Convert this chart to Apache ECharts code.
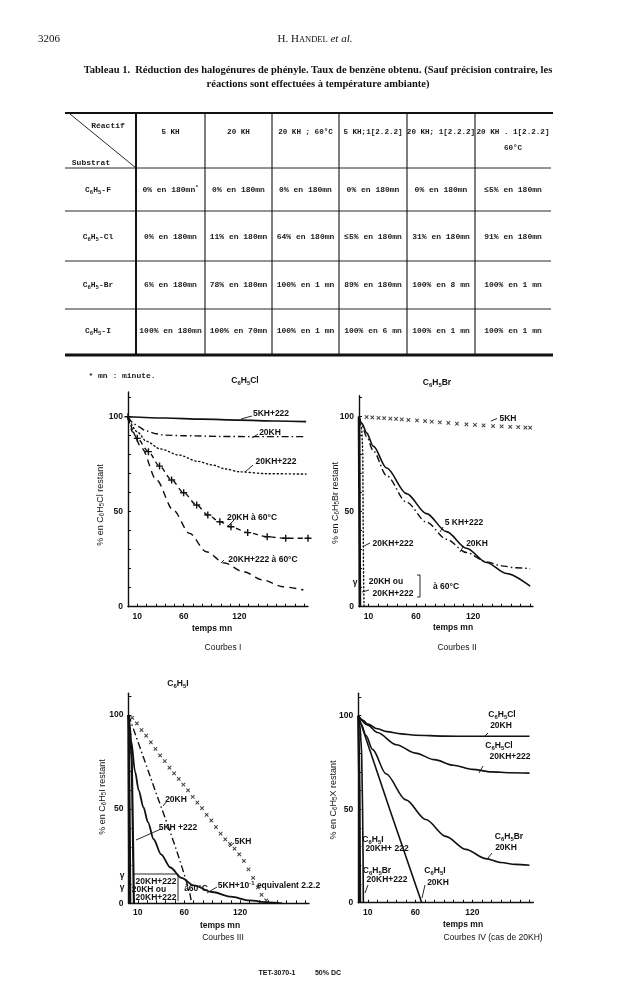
<!DOCTYPE html>
<html><head><meta charset="utf-8">
<script src="https://cdn.jsdelivr.net/npm/echarts/dist/echarts.min.js"></script>
<style>
html,body{margin:0;padding:0;background:#fff;}
body{width:625px;height:1007px;position:relative;overflow:hidden;}
#chart{position:absolute;left:0;top:0;width:625px;height:1007px;}
#ov{position:absolute;left:0;top:0;width:625px;height:1007px;pointer-events:none;}
.t{position:absolute;transform:translate(-50%,-50%);white-space:nowrap;line-height:1;color:#111;pointer-events:none;}
.t sub{font-size:70%;vertical-align:-0.3em;line-height:0;}
.t sup{font-size:70%;vertical-align:0.5em;line-height:0;}
.serif{font-family:"Liberation Serif","DejaVu Serif",serif;}
.hd{font-size:11px;}
.cap{font-size:10.5px;font-weight:bold;}
.mono{font-family:"Liberation Mono","DejaVu Sans Mono",monospace;font-size:8px;font-weight:bold;color:#1a1a1a;}
.mh{font-size:7.6px;}
.sans{font-family:"Liberation Sans",Arial,sans-serif;}
.lb{font-size:8.5px;font-weight:bold;}
.ax{font-size:8.5px;font-weight:bold;}
.cb{font-size:8.5px;}
.yn{font-size:9px;}
.ft{font-size:7px;font-weight:bold;}
</style></head>
<body>
<div id="chart"></div>
<svg id="ov" xmlns="http://www.w3.org/2000/svg"></svg>
<script>
// ---------------- DATA ----------------
// tick labels shown on the axes
const xTicksShown = [10, 60, 120];
const yTicksShown = [0, 50, 100];

// Table 1 (text values)
const tableHeaders = ["5 KH", "20 KH", "20 KH ; 60°C", "5 KH;1[2.2.2]", "20 KH; 1[2.2.2]", "20 KH . 1[2.2.2]"];
const tableHeaderLine2 = ["", "", "", "", "", "60°C"];
const tableSubstrates = ["C<sub>6</sub>H<sub>5</sub>-F", "C<sub>6</sub>H<sub>5</sub>-Cl", "C<sub>6</sub>H<sub>5</sub>-Br", "C<sub>6</sub>H<sub>5</sub>-I"];
const rowF  = ["0% en 180mn<sup>*</sup>", "0% en 180mn", "0% en 180mn", "0% en 180mn", "0% en 180mn", "≤5% en 180mn"];
const rowCl = ["0% en 180mn", "11% en 180mn", "64% en 180mn", "≤5% en 180mn", "31% en 180mn", "91% en 180mn"];
const rowBr = ["6% en 180mn", "78% en 180mn", "100% en 1 mn", "89% en 180mn", "100% en 8 mn", "100% en 1 mn"];
const rowI  = ["100% en 180mn", "100% en 70mn", "100% en 1 mn", "100% en 6 mn", "100% en 1 mn", "100% en 1 mn"];

// Courbes I : C6H5Cl  [temps mn, % restant]
const c1_5KH222   = [[0,100],[40,99.3],[80,98.7],[120,98.2],[160,97.7],[192,97.4]];
const c1_20KH     = [[0,100],[5,97],[10,95],[20,92.5],[30,91],[40,90.3],[60,90],[100,89.6],[140,89.5],[192,89.5]];
const c1_20KH222  = [[0,100],[10,92],[20,87],[35,83],[55,79.8],[75,76.5],[91,74.6],[105,72.5],[120,71],[150,70],[192,69.8]];
const c1_20KH60   = [[0,100],[10,88.6],[22,81.6],[34,74],[47,66.7],[60,60],[74,53.5],[86,48.3],[99,44.7],[111,42.1],[129,39],[150,36.8],[170,36],[194,36]];
const c1_20KH222_60 = [[0,100],[5,92],[14.7,83.4],[30.7,66.7],[48.6,50.9],[66.4,38.6],[84.3,28.9],[104,23],[124.3,18.4],[145.7,14],[167,10.5],[189,8.8]];

// Courbes II : C6H5Br
const c2_5KH = [[8,99.8],[14,99.6],[20.5,99.4],[26.5,99.2],[33,99],[39,98.8],[45,98.6],[52,98.3],[61,98],[69.5,97.7],[76.5,97.4],[85,97],[94,96.7],[103,96.3],[113,96],[122,95.7],[131,95.4],[141,95.1],[150,94.9],[159,94.7],[167.5,94.5],[175,94.3],[180,94.2]];
const c2_5KH222 = [[0,100],[3,96.5],[8,91.5],[15,84.5],[29,73],[50,59.5],[71,49],[92,39.5],[113,30.8],[134,23.3],[155,17.5],[180,10.8]];
const br_20KH   = [[0,100],[3,95.5],[8,89.5],[15,82],[29,69],[50,55],[71,44.5],[92,35.5],[113,28.5],[134,23.6],[150,21.5],[165,20.5],[180,20]];
const c2_20KH222 = [[0,100],[3,93],[4,80],[4.3,50],[4.7,20],[5.3,0]];
const c2_60C    = [[0,100],[0.5,50],[1,0]];

// Courbes III : C6H5I
const c3_5KH = [[4,98.5],[9,95.5],[14,92],[19,89],[24,85.5],[29,82],[34,78.5],[39,75.5],[44,72],[49,69],[54,66],[59,63],[64,60],[69,56.5],[74,53.5],[79,50.5],[84,47],[89,44],[94,40.5],[99,37],[104,34],[109,31.5],[114,29],[119,26],[124,22.5],[129,18],[134,13.5],[139,8.5],[143,4.5],[148,1.5]];
const c3_20KH   = [[0,100],[10,86],[20,72],[30,58],[40,44.5],[50,30.5],[57,20],[62,12],[66,5],[68,0]];
const c3_5KH01  = [[0,100],[3,86],[7,70],[11,60],[16,51],[21,43],[27,34],[35,26],[45,19],[57,13.5],[70,9.5],[90,6],[110,3.5],[130,1.5],[150,0.5],[165,0]];
const c3_5KH222 = [[0,100],[2,90],[3.5,75],[4.5,45],[5.2,20],[5.8,0]];
const c3_20KH222 = [[0,100],[1,70],[1.8,30],[2.2,0]];
const c3_60C    = [[0,100],[0.5,50],[1,0]];

// Courbes IV : cas de 20KH
const c4_Cl20KH    = [[0,100],[5,97.5],[10,95.5],[20,93],[30,91.5],[45,90.3],[60,89.6],[90,89.1],[120,89],[180,89]];
const c4_Cl20KH222 = [[0,100],[10,95],[20,91],[40,84.5],[60,80],[80,76.5],[100,73.5],[120,71.3],[140,70],[160,69.5],[180,69.3]];
const c4_I20KH     = [[0,100],[33,50],[66.7,0]];
const c4_I20KH222  = [[0,100],[1.2,60],[1.5,25],[1.8,0]];
const c4_Br20KH222 = [[0,100],[2,93],[3.5,80],[4.5,50],[5,25],[5.3,0]];

// ---------------- LAYOUT ----------------
const INK = '#111';
const grids = [
  {left:128,   top:392,   width:180,   height:214.7},
  {left:359,   top:395.8, width:174,   height:210.9},
  {left:128.5, top:693.3, width:180.5, height:210},
  {left:358.3, top:693.3, width:175,   height:209.4}
];
const xMax = [194,183,194,184];
const yMax = [113,111,111.5,112];
const labelFont = {color:INK, fontSize:8.5, fontWeight:'bold', fontFamily:'Liberation Sans'};

const xAxes = grids.map((g,i)=>({
  gridIndex:i, type:'value', min:0, max:xMax[i], interval:10,
  axisLine:{show:true, onZero:false, lineStyle:{color:INK, width:1.4}},
  axisTick:{show:true, inside:true, length:3, lineStyle:{color:INK, width:1}},
  axisLabel:Object.assign({margin:5, showMaxLabel:false, formatter:v=>xTicksShown.includes(v)?String(v):''}, labelFont),
  splitLine:{show:false}
}));
const yAxes = grids.map((g,i)=>({
  gridIndex:i, type:'value', min:0, max:yMax[i], interval:10,
  axisLine:{show:true, onZero:false, lineStyle:{color:INK, width:1.4}},
  axisTick:{show:true, inside:true, length:3, lineStyle:{color:INK, width:1}},
  axisLabel:Object.assign({margin:5, showMaxLabel:false, formatter:v=>yTicksShown.includes(v)?String(v):''}, labelFont),
  splitLine:{show:false}
}));

const plusPath = 'path://M4,0H6V4H10V6H6V10H4V6H0V4H4Z';
function ln(gi, data, ls, extra){
  return Object.assign({type:'line', xAxisIndex:gi, yAxisIndex:gi, data:data, symbol:'none', showSymbol:false,
    smooth:0.3, smoothMonotone:'x', silent:true, animation:false,
    lineStyle:Object.assign({color:INK, width:1.4}, ls)}, extra||{});
}
function marks(gi, data, size){
  return {type:'scatter', xAxisIndex:gi, yAxisIndex:gi, data:data, symbol:plusPath, symbolRotate:45,
    symbolSize:size, itemStyle:{color:INK}, silent:true, animation:false};
}
const DASHDOT=[7,3,1.5,3];

const series = [
  // I
  ln(0, c1_5KH222, {width:1.6}),
  ln(0, c1_20KH, {type:DASHDOT}),
  ln(0, c1_20KH222, {type:[1.2,2.8], cap:'round'}),
  ln(0, c1_20KH60, {type:[5,4]}, {symbol:plusPath, showSymbol:true, symbolSize:7, itemStyle:{color:INK}}),
  ln(0, c1_20KH222_60, {type:[7,5]}),
  // II
  marks(1, c2_5KH, 5),
  ln(1, c2_5KH222, {width:1.6}),
  ln(1, br_20KH, {type:DASHDOT}),
  ln(1, c2_20KH222, {type:[1.2,2.5], cap:'round'}, {smooth:false}),
  ln(1, c2_60C, {width:2.6}, {smooth:false}),
  // III
  marks(2, c3_5KH, 5),
  ln(2, c3_20KH, {type:DASHDOT}, {smooth:false}),
  ln(2, c3_5KH01, {width:1.8}),
  ln(2, c3_5KH222, {width:2.2}, {smooth:false}),
  ln(2, c3_20KH222, {width:1.6}, {smooth:false}),
  ln(2, c3_60C, {width:2.4}, {smooth:false}),
  // IV
  ln(3, c4_Cl20KH, {width:1.6}),
  ln(3, c4_Cl20KH222, {width:1.6}),
  ln(3, br_20KH, {width:1.6}),
  ln(3, c4_I20KH, {width:1.6}, {smooth:false}),
  ln(3, c4_I20KH222, {width:2.4}, {smooth:false}),
  ln(3, c4_Br20KH222, {width:1.6}, {smooth:false})
];

const chart = echarts.init(document.getElementById('chart'), null, {renderer:'canvas'});
chart.setOption({animation:false, backgroundColor:'#fff', grid:grids, xAxis:xAxes, yAxis:yAxes, series:series});

// ---------------- TEXT ----------------
function T(x,y,html,cls,rot){
  const d=document.createElement('div');
  d.className='t '+cls; d.style.left=x+'px'; d.style.top=y+'px'; d.innerHTML=html;
  if(rot) d.style.transform='translate(-50%,-50%) rotate(-90deg)';
  document.body.appendChild(d);
}
const C = (a,b)=>'C<sub>6</sub>H<sub>5</sub>'+a+(b||'');
// header
T(49,38,'3206','serif hd');
T(315,38,'H. H<span style="font-size:8.5px">ANDEL</span> <i>et al.</i>','serif hd');
T(318,70,'Tableau 1.&nbsp; Réduction des halogénures de phényle. Taux de benzène obtenu. (Sauf précision contraire, les','serif cap');
T(318,84,'réactions sont effectuées à température ambiante)','serif cap');

// table
const colEdges=[65,136,205,272,339,407,475,551];
const rowEdges=[113,168,211,261,309,355];
const rowCenters=[190,237,285,331];
T(108,126,'Réactif','mono'); T(91,163,'Substrat','mono');
tableHeaders.forEach((h,i)=>{
  const cx=(colEdges[i+1]+colEdges[i+2])/2;
  T(cx, 133, h, 'mono mh');
  if(tableHeaderLine2[i]) T(cx, 149, tableHeaderLine2[i], 'mono mh');
});
[rowF,rowCl,rowBr,rowI].forEach((r,ri)=>{
  T(98,rowCenters[ri],tableSubstrates[ri],'mono');
  r.forEach((v,ci)=>{ T((colEdges[ci+1]+colEdges[ci+2])/2,rowCenters[ri],v,'mono'); });
});
T(122,376,'* mn : minute.','mono');

// chart I
T(245,380,C('Cl'),'sans lb');
T(100,505,'% en '+C('Cl')+' restant','sans yn',true);
T(212,628,'temps mn','sans ax');
T(223,647,'Courbes I','sans cb');
T(271,413,'5KH+222','sans lb');
T(270,432,'20KH','sans lb');
T(276,461,'20KH+222','sans lb');
T(252,517,'20KH à 60°C','sans lb');
T(263,559,'20KH+222 à 60°C','sans lb');
// chart II
T(437,382,C('Br'),'sans lb');
T(335,503,'% en '+C('Br')+' restant','sans yn',true);
T(453,627,'temps mn','sans ax');
T(457,647,'Courbes II','sans cb');
T(508,418,'5KH','sans lb');
T(464,522,'5 KH+222','sans lb');
T(477,543,'20KH','sans lb');
T(393,543,'20KH+222','sans lb');
T(386,581,'20KH ou','sans lb');
T(393,593,'20KH+222','sans lb');
T(446,586,'à 60°C','sans lb');
T(355,582,'γ','sans lb');
// chart III
T(178,683,C('I'),'sans lb');
T(102,797,'% en '+C('I')+' restant','sans yn',true);
T(220,925,'temps mn','sans ax');
T(223,937,'Courbes III','sans cb');
T(176,799,'20KH','sans lb');
T(178,827,'5KH +222','sans lb');
T(243,841,'5KH','sans lb');
T(269,885,'5KH+10<sup>-1</sup> equivalent 2.2.2','sans lb');
T(122,875,'γ','sans lb'); T(122,887,'γ','sans lb');
T(156,881,'20KH+222','sans lb');
T(149,889,'20KH ou','sans lb');
T(156,897,'20KH+222','sans lb');
T(196,888,'à60°C','sans lb');
// chart IV
T(333,800,'% en '+C('X')+' restant','sans yn',true);
T(463,924,'temps mn','sans ax');
T(493,937,'Courbes IV (cas de 20KH)','sans cb');
T(502,714,C('Cl'),'sans lb'); T(501,725,'20KH','sans lb');
T(499,745,C('Cl'),'sans lb'); T(510,756,'20KH+222','sans lb');
T(509,836,C('Br'),'sans lb'); T(506,847,'20KH','sans lb');
T(435,870,C('I'),'sans lb'); T(438,882,'20KH','sans lb');
T(373,839,C('I'),'sans lb'); T(387,848,'20KH+ 222','sans lb');
T(377,870,C('Br'),'sans lb'); T(387,879,'20KH+222','sans lb');
// footer
T(277,972,'TET-3070-1','sans ft');
T(328,972,'50% DC','sans ft');

// ---------------- RULES / LEADERS (SVG) ----------------
const svg=document.getElementById('ov');
function L(x1,y1,x2,y2,w){
  const e=document.createElementNS('http://www.w3.org/2000/svg','line');
  e.setAttribute('x1',x1);e.setAttribute('y1',y1);e.setAttribute('x2',x2);e.setAttribute('y2',y2);
  e.setAttribute('stroke',INK);e.setAttribute('stroke-width',w||0.9);
  svg.appendChild(e);
}
// table rules
L(colEdges[0],rowEdges[0],colEdges[7]+2,rowEdges[0],1.8);
rowEdges.slice(1,5).forEach(y=>L(colEdges[0],y,colEdges[7],y,0.9));
L(colEdges[0],rowEdges[5],colEdges[7]+2,rowEdges[5],3);
colEdges.slice(1,7).forEach((x,i)=>L(x,rowEdges[0],x,rowEdges[5],i===0?2:1.1));
L(70,114,136,168,0.9);
// leaders chart I
L(252,416,241,419); L(258,434,252,438); L(253,465,245,472); L(234,520,227,527); L(224,560,221,563);
// chart II
L(497,418.5,491,421); L(443,527,440,532); L(463,547,460,552); L(370,543,364,546); L(369,590,362,592);
L(417,575,420,575); L(420,575,420,597); L(420,597,417,597);
// chart III
L(167,801,163,806); L(161,829,136,840); L(234,843,229,847); L(217,887,207,893);
L(134,874,178,874); L(178,874,178,901);
// chart IV
L(488,733,485,736); L(483,766,479,773); L(492,853,488,858); L(425,885,422,898); L(368,885,365,893);
</script>
</body></html>
